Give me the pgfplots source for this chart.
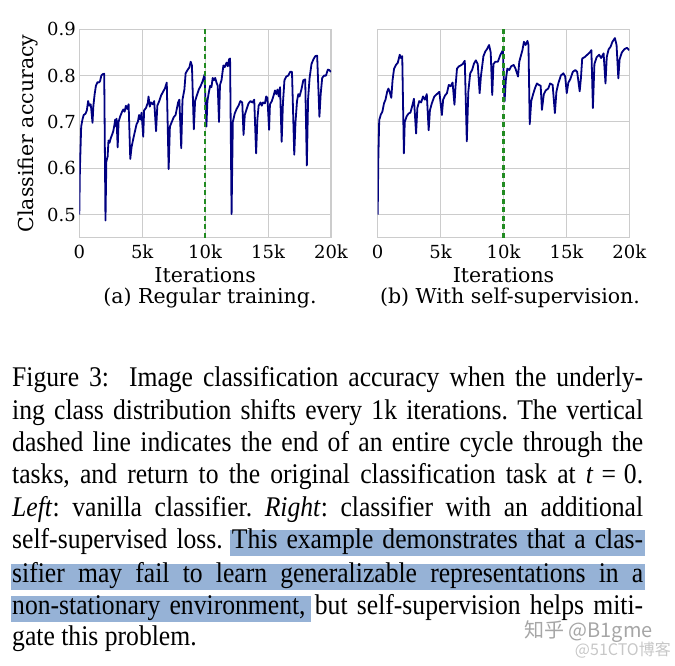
\documentclass[border=0pt]{standalone}
\usepackage{fontspec}
\setmainfont[FakeStretch=0.9]{Liberation Serif}
\newfontfamily\plotfont{DejaVu Serif}
\newfontfamily\cjk{Noto Sans CJK SC}
\usepackage{pgfplots}
\pgfplotsset{compat=1.18}
\usepackage{pgfplotstable}
\definecolor{navyline}{HTML}{000080}
\definecolor{dashgreen}{HTML}{228B22}
\definecolor{gridgray}{HTML}{CCCCCC}
\definecolor{hlblue}{HTML}{96B2D6}

\pgfplotstableread{
x y
0.00 0.500
0.05 0.600
0.15 0.690
0.25 0.705
0.35 0.715
0.50 0.718
0.60 0.725
0.70 0.745
0.80 0.735
0.90 0.738
0.95 0.728
1.05 0.698
1.12 0.735
1.22 0.760
1.32 0.778
1.45 0.786
1.55 0.785
1.65 0.788
1.75 0.800
1.85 0.803
1.98 0.804
2.08 0.487
2.15 0.615
2.25 0.625
2.32 0.660
2.40 0.655
2.50 0.665
2.60 0.672
2.70 0.680
2.80 0.695
2.85 0.705
2.92 0.690
2.96 0.707
3.05 0.645
3.12 0.700
3.25 0.712
3.40 0.722
3.50 0.727
3.60 0.722
3.70 0.735
3.80 0.728
3.92 0.738
4.05 0.620
4.15 0.645
4.30 0.665
4.45 0.683
4.55 0.695
4.65 0.700
4.75 0.715
4.85 0.705
4.95 0.720
5.08 0.668
5.15 0.725
5.30 0.730
5.45 0.742
5.50 0.755
5.60 0.733
5.70 0.742
5.85 0.738
5.95 0.745
6.10 0.680
6.20 0.735
6.35 0.745
6.50 0.757
6.65 0.765
6.80 0.772
6.95 0.785
7.10 0.598
7.20 0.690
7.35 0.700
7.50 0.710
7.65 0.715
7.85 0.742
7.95 0.748
8.10 0.643
8.20 0.748
8.35 0.770
8.45 0.805
8.60 0.812
8.75 0.818
8.85 0.830
8.95 0.822
9.10 0.684
9.20 0.745
9.35 0.758
9.50 0.770
9.65 0.778
9.80 0.788
9.95 0.802
10.10 0.690
10.18 0.745
10.30 0.765
10.40 0.778
10.50 0.775
10.60 0.795
10.70 0.790
10.80 0.795
10.90 0.785
11.00 0.778
11.10 0.700
11.18 0.780
11.30 0.790
11.45 0.822
11.55 0.818
11.70 0.828
11.80 0.820
11.90 0.835
11.98 0.837
12.10 0.501
12.20 0.700
12.35 0.718
12.50 0.728
12.65 0.735
12.80 0.745
12.95 0.742
13.05 0.672
13.15 0.715
13.30 0.728
13.45 0.740
13.60 0.745
13.75 0.742
13.90 0.748
14.05 0.632
14.15 0.705
14.25 0.735
14.40 0.742
14.50 0.735
14.60 0.742
14.75 0.740
14.85 0.755
14.95 0.752
15.08 0.683
15.15 0.738
15.30 0.745
15.45 0.758
15.55 0.768
15.65 0.760
15.75 0.770
15.85 0.755
15.95 0.775
16.08 0.657
16.18 0.740
16.30 0.790
16.45 0.798
16.60 0.800
16.75 0.808
16.90 0.808
17.08 0.629
17.18 0.700
17.30 0.745
17.40 0.760
17.50 0.755
17.65 0.770
17.80 0.790
17.95 0.792
18.08 0.606
18.18 0.750
18.30 0.795
18.45 0.825
18.60 0.835
18.75 0.842
18.90 0.843
19.08 0.711
19.18 0.760
19.30 0.795
19.45 0.800
19.60 0.800
19.75 0.813
19.85 0.812
20.00 0.808
}\regular

\pgfplotstableread{
x y
0.00 0.500
0.05 0.620
0.12 0.704
0.25 0.716
0.37 0.722
0.50 0.740
0.62 0.748
0.75 0.765
0.85 0.772
0.95 0.765
1.08 0.752
1.18 0.790
1.30 0.815
1.45 0.823
1.60 0.828
1.75 0.845
1.85 0.838
1.95 0.842
2.08 0.632
2.15 0.700
2.30 0.712
2.45 0.718
2.60 0.720
2.75 0.735
2.88 0.750
3.05 0.675
3.15 0.730
3.30 0.745
3.45 0.742
3.60 0.755
3.75 0.748
3.90 0.760
4.05 0.682
4.15 0.725
4.30 0.740
4.50 0.755
4.70 0.760
4.90 0.765
5.10 0.715
5.20 0.748
5.35 0.757
5.50 0.762
5.65 0.780
5.80 0.777
5.95 0.785
6.10 0.737
6.18 0.775
6.30 0.815
6.45 0.820
6.60 0.822
6.75 0.825
6.92 0.832
7.08 0.658
7.20 0.765
7.35 0.805
7.50 0.812
7.65 0.826
7.80 0.833
7.95 0.825
8.10 0.762
8.20 0.798
8.40 0.842
8.55 0.852
8.70 0.858
8.85 0.866
8.98 0.850
9.10 0.758
9.20 0.825
9.35 0.830
9.55 0.830
9.75 0.845
9.95 0.855
10.08 0.744
10.18 0.790
10.30 0.815
10.45 0.812
10.60 0.820
10.80 0.823
10.95 0.815
11.15 0.798
11.25 0.830
11.40 0.845
11.50 0.855
11.62 0.873
11.75 0.866
11.90 0.875
11.98 0.866
12.08 0.695
12.20 0.745
12.35 0.760
12.50 0.773
12.65 0.783
12.80 0.780
12.95 0.778
13.05 0.726
13.20 0.760
13.35 0.768
13.55 0.772
13.70 0.783
13.90 0.780
14.08 0.719
14.20 0.765
14.35 0.783
14.55 0.800
14.75 0.805
14.90 0.798
15.02 0.762
15.15 0.785
15.30 0.792
15.50 0.808
15.70 0.812
15.85 0.808
16.05 0.766
16.15 0.795
16.25 0.837
16.45 0.840
16.65 0.845
16.85 0.850
16.98 0.855
17.10 0.730
17.22 0.825
17.40 0.840
17.60 0.845
17.75 0.838
17.95 0.848
18.10 0.783
18.20 0.840
18.35 0.857
18.50 0.862
18.65 0.873
18.85 0.881
18.98 0.866
19.12 0.794
19.22 0.835
19.40 0.850
19.60 0.857
19.80 0.860
20.00 0.855
}\selfsup

\pgfplotsset{
  myax/.style={
    scale only axis, width=251.7pt, height=208.4pt,
    xmin=0, xmax=20, ymin=0.45, ymax=0.9,
    xtick={0,5,10,15,20}, xticklabels={0,5k,10k,15k,20k},
    ytick={0.5,0.6,0.7,0.8,0.9},
    grid=major, major grid style={color=gridgray, line width=1pt},
    axis line style={color=gridgray, line width=1.2pt},
    major tick length=0pt,
    tick label style={font=\fontsize{18}{20}\selectfont\plotfont},
    xticklabel style={yshift=-4pt},
    /pgf/number format/assume math mode=true,
    label style={font=\fontsize{20.5}{23}\selectfont\plotfont},
    xlabel={Iterations},
    xlabel style={at={(axis description cs:0.5,-0.181)}, anchor=center},
    yticklabel style={/pgf/number format/.cd, fixed, fixed zerofill, precision=1},
  }
}

\newcommand{\jline}[1]{\makebox[631pt][s]{#1}}

\begin{document}
\frenchspacing
\begin{tikzpicture}[x=1pt,y=1pt]
\path[use as bounding box] (0,0) rectangle (675,666);

\begin{axis}[myax, at={(79.3pt,428.3pt)}, anchor=south west,
  ylabel={Classifier accuracy},
  ylabel style={at={(axis description cs:-0.204,0.5)}, anchor=center}]
\addplot[navyline, line width=1.8pt, line join=round] table[x=x,y=y]{\regular};
\addplot[dashgreen, line width=2.4pt, dash pattern=on 5pt off 3.5pt] coordinates {(10,0.45) (10,0.9)};
\end{axis}

\begin{axis}[myax, at={(377.7pt,428.3pt)}, anchor=south west, yticklabels={}]
\addplot[navyline, line width=1.8pt, line join=round] table[x=x,y=y]{\selfsup};
\addplot[dashgreen, line width=2.4pt, dash pattern=on 5pt off 3.5pt] coordinates {(10,0.45) (10,0.9)};
\end{axis}

\node[font=\fontsize{20.5}{23}\selectfont\plotfont] at (210,368) {(a) Regular training.};
\node[font=\fontsize{20.5}{23}\selectfont\plotfont] at (510,368) {(b) With self-supervision.};

% highlight
\fill[hlblue] (230,666-556) rectangle (645,666-530);
\fill[hlblue] (11,666-590) rectangle (645,666-564);
\fill[hlblue] (11,666-622) rectangle (311,666-596);

\begin{scope}[every node/.style={anchor=base west, inner sep=0pt, font=\fontsize{28.5}{32}\selectfont}]
\node at (12,666-387) {\jline{Figure 3:\ \ Image classification accuracy when the underly-}};
\node at (12,666-420) {\jline{ing class distribution shifts every 1k iterations. The vertical}};
\node at (12,666-452) {\jline{dashed line indicates the end of an entire cycle through the}};
\node at (12,666-484) {\jline{tasks, and return to the original classification task at \textit{t}\hspace{0.28em}=\hspace{0.28em}0.}};
\node at (12,666-517) {\jline{\textit{Left}: vanilla classifier. \textit{Right}: classifier with an additional}};
\node at (12,666-549) {\jline{self-supervised loss. This example demonstrates that a clas-}};
\node at (12,666-583) {\jline{sifier may fail to learn generalizable representations in a}};
\node at (12,666-615) {\jline{non-stationary environment, but self-supervision helps miti-}};
\node at (12,666-646) {gate this problem.};
\end{scope}

\node[anchor=west, text=black!35, font=\cjk\fontsize{20}{20}\selectfont, inner sep=0pt] at (524,666-632) {知乎 @B1gme};
\node[anchor=east, text=black!22, font=\cjk\fontsize{16}{16}\selectfont, inner sep=0pt] at (671,666-650) {@51CTO博客};
\end{tikzpicture}
\end{document}
